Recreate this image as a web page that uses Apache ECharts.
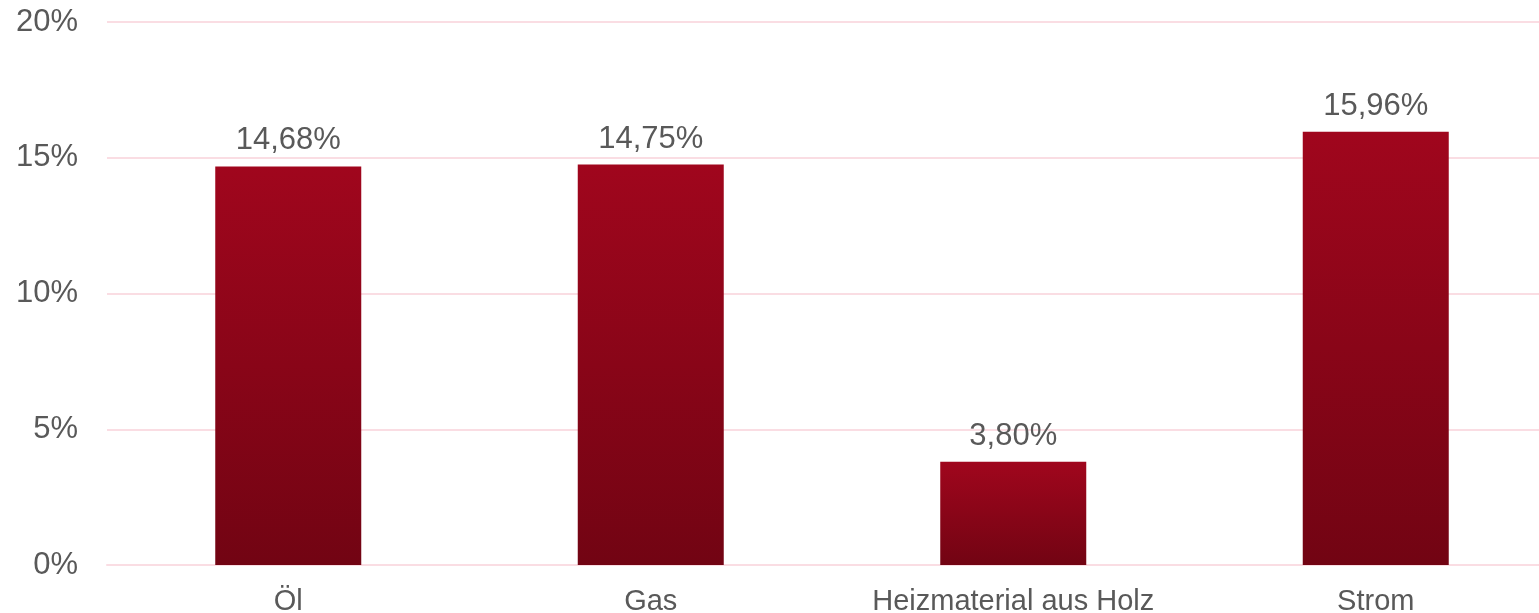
<!DOCTYPE html>
<html>
<head>
<meta charset="utf-8">
<script src="https://cdn.jsdelivr.net/npm/echarts@6/dist/echarts.min.js"></script>
<style>html,body{margin:0;padding:0;background:#fff;}#c{width:1539px;height:613px;}</style>
</head>
<body>
<div id="c"></div>
<script>
const categories = ['Öl', 'Gas', 'Heizmaterial aus Holz', 'Strom'];
const values = [14.68, 14.75, 3.80, 15.96];
const yTicks = [0, 5, 10, 15, 20];

const chart = echarts.init(document.getElementById('c'), null, {renderer: 'canvas'});
chart.setOption({
  animation: false,
  backgroundColor: '#ffffff',
  grid: {left: 107, width: 1450, top: 22, bottom: 48, containLabel: false, outerBoundsMode: 'none'},
  xAxis: {
    type: 'category',
    data: categories,
    axisLine: {show: true, lineStyle: {color: '#FADDE3', width: 2}},
    axisTick: {show: false},
    axisLabel: {interval: 0, color: '#595959', fontSize: 29, fontFamily: 'Liberation Sans, Arial, sans-serif', margin: 22}
  },
  yAxis: {
    type: 'value',
    min: yTicks[0],
    max: yTicks[yTicks.length - 1],
    interval: 5,
    axisLine: {show: false},
    axisTick: {show: false},
    splitLine: {lineStyle: {color: '#FADDE3', width: 2}},
    axisLabel: {color: '#595959', fontSize: 31, fontFamily: 'Liberation Sans, Arial, sans-serif', margin: 29,
      padding: [4, 0, 0, 0],
      formatter: v => v + '%'}
  },
  series: [{
    type: 'bar',
    data: values,
    barWidth: 146,
    itemStyle: {
      color: new echarts.graphic.LinearGradient(0, 0, 0, 1, [
        {offset: 0, color: '#A0061D'},
        {offset: 1, color: '#720413'}
      ])
    },
    label: {
      show: true,
      position: 'top',
      distance: 10,
      color: '#595959',
      fontSize: 31,
      fontFamily: 'Liberation Sans, Arial, sans-serif',
      formatter: p => p.value.toFixed(2).replace('.', ',') + '%'
    }
  }]
});
</script>
</body>
</html>
